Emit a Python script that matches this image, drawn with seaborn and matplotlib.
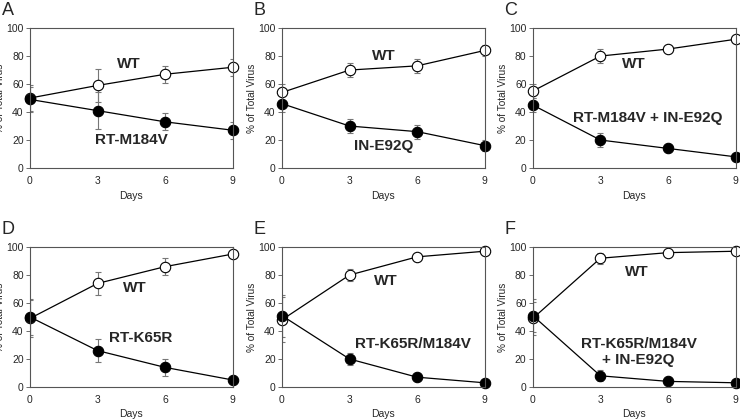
import numpy as np
import pandas as pd
import matplotlib
matplotlib.use("Agg")
import matplotlib.pyplot as plt
import seaborn as sns

days = [0, 3, 6, 9]
panel_letters = ["A", "B", "C", "D", "E", "F"]
mutant_names = ["RT-M184V", "IN-E92Q", "RT-M184V + IN-E92Q",
                "RT-K65R", "RT-K65R/M184V", "RT-K65R/M184V\n+ IN-E92Q"]

wt_a = [50, 59, 67, 72]
wt_a_err = [9, 12, 6, 6]
mut_a = [49, 41, 33, 27]
mut_a_err = [9, 13, 6, 6]

wt_b = [54, 70, 73, 84]
wt_b_err = [6, 5, 5, 4]
mut_b = [46, 30, 26, 16]
mut_b_err = [6, 5, 5, 4]

wt_c = [55, 80, 85, 92]
wt_c_err = [5, 5, 2, 1]
mut_c = [45, 20, 14, 8]
mut_c_err = [5, 5, 2, 1]

wt_d = [49, 74, 86, 95]
wt_d_err = [13, 8, 6, 1]
mut_d = [50, 26, 14, 5]
mut_d_err = [13, 8, 6, 1]

wt_e = [48, 80, 93, 97]
wt_e_err = [16, 4, 1, 1]
mut_e = [51, 20, 7, 3]
mut_e_err = [15, 4, 1, 1]

wt_f = [49, 92, 96, 97]
wt_f_err = [12, 4, 1, 1]
mut_f = [51, 8, 4, 3]
mut_f_err = [12, 4, 1, 1]

wt_all = [wt_a, wt_b, wt_c, wt_d, wt_e, wt_f]
wt_err_all = [wt_a_err, wt_b_err, wt_c_err, wt_d_err, wt_e_err, wt_f_err]
mut_all = [mut_a, mut_b, mut_c, mut_d, mut_e, mut_f]
mut_err_all = [mut_a_err, mut_b_err, mut_c_err, mut_d_err, mut_e_err, mut_f_err]

# label positions (data coords) for the WT / mutant text
wt_label_pos = [(4.4, 74), (4.5, 80), (4.5, 74), (4.65, 71), (4.6, 76), (4.6, 82)]
mut_label_pos = [(4.5, 20), (4.5, 16), (5.1, 36), (4.9, 35), (5.8, 31), (4.7, 25)]

sns.set_style("white")
plt.rcParams["font.family"] = ["Liberation Sans", "DejaVu Sans"]

fig = plt.figure(figsize=(7.4, 4.19), dpi=100)
lefts = [0.0405, 0.381, 0.720]
bottoms = [0.599, 0.0764]
w, h = 0.274, 0.334

for i in range(6):
    row, col = divmod(i, 3)
    ax = fig.add_axes([lefts[col], bottoms[row], w, h])

    df = pd.DataFrame({"Days": days * 2,
                       "pct": wt_all[i] + mut_all[i],
                       "strain": ["WT"] * 4 + ["MUT"] * 4})
    err = wt_err_all[i] + mut_err_all[i]

    ax.errorbar(df["Days"], df["pct"], yerr=err, fmt="none",
                ecolor="#777777", elinewidth=0.8, capsize=2.5, capthick=0.8, zorder=1)
    sns.lineplot(data=df, x="Days", y="pct", hue="strain", style="strain",
                 palette={"WT": "black", "MUT": "black"}, markers={"WT": "o", "MUT": "o"},
                 dashes=False, linewidth=0.9, markersize=7.5, legend=False, ax=ax, zorder=2)
    for line, fc in zip(ax.lines[-2:], ["white", "black"]):
        line.set_markerfacecolor(fc)
        line.set_markeredgecolor("black")
        line.set_markeredgewidth(0.8)
        line.set_clip_on(False)

    ax.set_xlim(0, 9)
    ax.set_ylim(0, 100)
    ax.set_xticks(days)
    ax.set_yticks([0, 20, 40, 60, 80, 100])
    ax.tick_params(labelsize=7.5, length=3, width=0.6, color="#555555", pad=1.5, left=True)
    ax.tick_params(axis="x", pad=3)
    ax.set_xlabel("Days", fontsize=7.5, labelpad=3)
    ax.set_ylabel("% of Total Virus", fontsize=7.2, labelpad=1)
    for s in ax.spines.values():
        s.set_color("#555555")
        s.set_linewidth(0.8)

    ax.text(*wt_label_pos[i], "WT", fontsize=11, fontweight="bold", ha="center", va="center")
    ax.text(*mut_label_pos[i], mutant_names[i], fontsize=11, fontweight="bold",
            ha="center", va="center", linespacing=1.25)
    ax.text(-0.14, 1.09, panel_letters[i], transform=ax.transAxes, fontsize=13,
            ha="left", va="baseline")

fig.savefig("out.png", dpi=100)
